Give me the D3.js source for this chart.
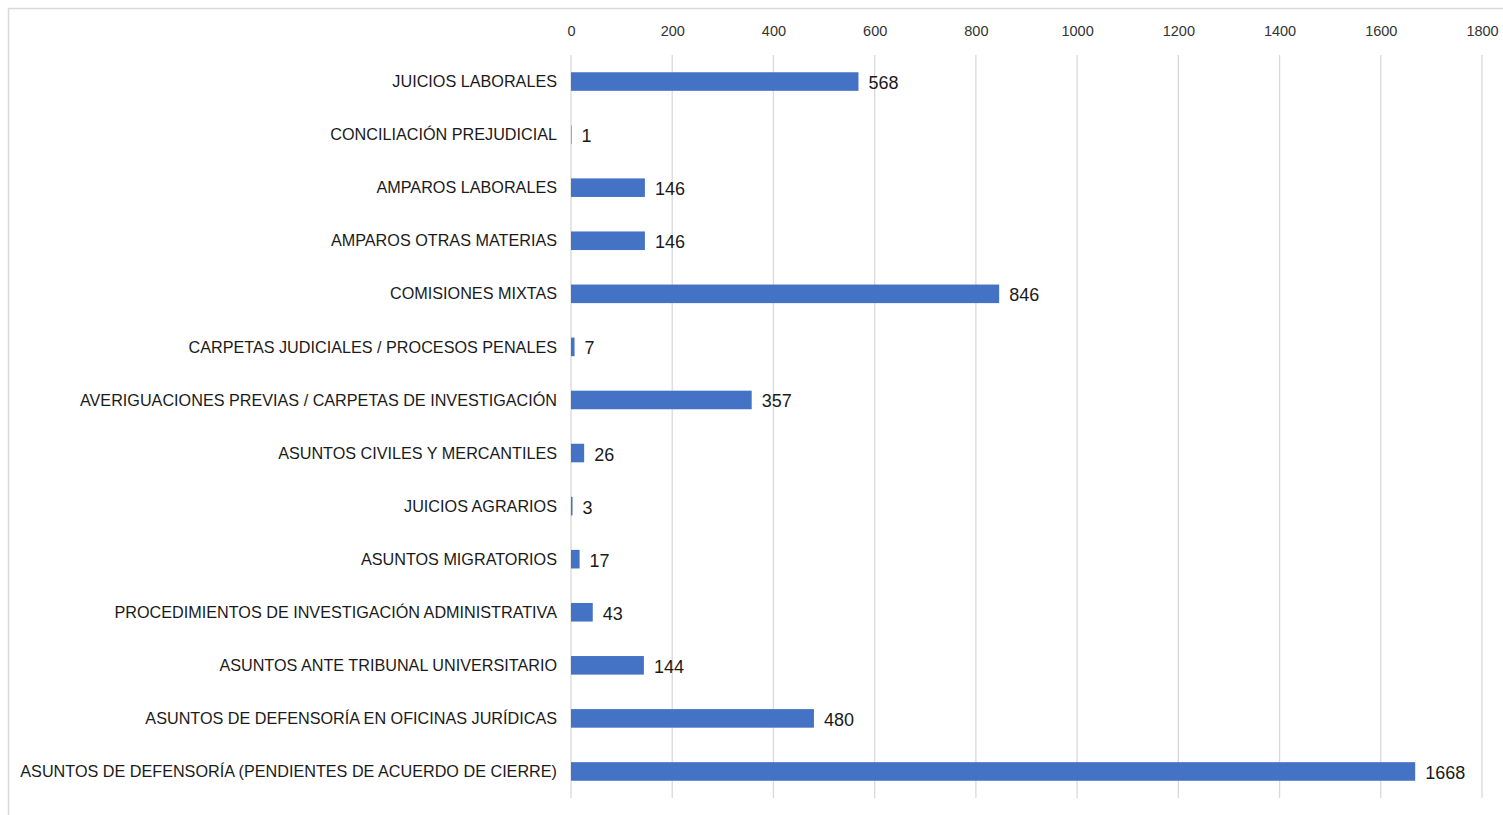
<!DOCTYPE html>
<html>
<head>
<meta charset="utf-8">
<script src="https://cdn.jsdelivr.net/npm/d3@7"></script>
<style>
  html, body { margin: 0; padding: 0; background: #fff; }
  svg { display: block; }
</style>
</head>
<body>
<svg id="chart" width="1503" height="815"></svg>
<script>
const categories = [
  "JUICIOS LABORALES",
  "CONCILIACIÓN PREJUDICIAL",
  "AMPAROS LABORALES",
  "AMPAROS OTRAS MATERIAS",
  "COMISIONES MIXTAS",
  "CARPETAS JUDICIALES / PROCESOS PENALES",
  "AVERIGUACIONES PREVIAS / CARPETAS DE INVESTIGACIÓN",
  "ASUNTOS CIVILES Y MERCANTILES",
  "JUICIOS AGRARIOS",
  "ASUNTOS MIGRATORIOS",
  "PROCEDIMIENTOS DE INVESTIGACIÓN ADMINISTRATIVA",
  "ASUNTOS ANTE TRIBUNAL UNIVERSITARIO",
  "ASUNTOS DE DEFENSORÍA EN OFICINAS JURÍDICAS",
  "ASUNTOS DE DEFENSORÍA (PENDIENTES DE ACUERDO DE CIERRE)"
];
const values = [568, 1, 146, 146, 846, 7, 357, 26, 3, 17, 43, 144, 480, 1668];
const tickValues = [0, 200, 400, 600, 800, 1000, 1200, 1400, 1600, 1800];

const svg = d3.select("#chart");

// chart frame
svg.append("rect")
  .attr("x", 8.5).attr("y", 8.5)
  .attr("width", 1600).attr("height", 900)
  .attr("fill", "none").attr("stroke", "#d9d9d9").attr("stroke-width", 1.5);

const x = d3.scaleLinear().domain([0, 1800]).range([571, 1482]);
const y = d3.scaleBand().domain(categories).range([55, 798]).paddingInner(0.65).paddingOuter(0.325);

// gridlines
svg.append("g").selectAll("line").data(tickValues).join("line")
  .attr("x1", d => x(d)).attr("x2", d => x(d))
  .attr("y1", 55).attr("y2", 798)
  .attr("stroke", "#d9d9d9").attr("stroke-width", 1.3);

// top axis labels
const axis = svg.append("g").attr("transform", "translate(0,36)")
  .call(d3.axisTop(x).tickValues(tickValues).tickSize(0).tickPadding(0).tickFormat(d3.format("d")));
axis.select(".domain").remove();
axis.selectAll("text")
  .attr("font-family", "'Liberation Sans', Arial, sans-serif")
  .attr("font-size", 14.5)
  .attr("fill", "#333333")
  .attr("dy", 0);

// bars
svg.append("g").selectAll("rect").data(values).join("rect")
  .attr("x", x(0))
  .attr("y", (d, i) => y(categories[i]))
  .attr("width", d => x(d) - x(0))
  .attr("height", y.bandwidth())
  .attr("fill", "#4472c4");

// category labels
svg.append("g").selectAll("text").data(categories).join("text")
  .attr("x", 557)
  .attr("y", d => y(d) + y.bandwidth() / 2)
  .attr("dy", "0.35em")
  .attr("text-anchor", "end")
  .attr("font-family", "'Liberation Sans', Arial, sans-serif")
  .attr("font-size", 16.2)
  .attr("fill", "#1a1a1a")
  .text(d => d);

// value labels
svg.append("g").selectAll("text").data(values).join("text")
  .attr("x", d => x(d) + 10)
  .attr("y", (d, i) => y(categories[i]) + y.bandwidth() / 2 + 1)
  .attr("dy", "0.36em")
  .attr("font-family", "'Liberation Sans', Arial, sans-serif")
  .attr("font-size", 18)
  .attr("fill", "#1a1a1a")
  .text(d => d);
</script>
</body>
</html>
